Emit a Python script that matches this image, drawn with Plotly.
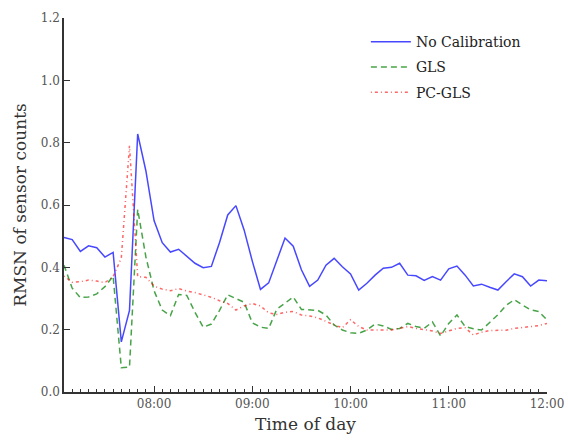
import pandas as pd
import plotly.graph_objects as go

times = pd.date_range("2000-01-01 07:05", "2000-01-01 12:00", freq="5min")

no_calibration = [
    0.496, 0.489, 0.451, 0.469, 0.463, 0.433, 0.448, 0.161, 0.262, 0.828,
    0.710, 0.550, 0.479, 0.449, 0.458, 0.435, 0.413, 0.399, 0.403, 0.480,
    0.568, 0.598, 0.520, 0.420, 0.329, 0.350, 0.424, 0.494, 0.468, 0.392,
    0.339, 0.359, 0.407, 0.429, 0.402, 0.379, 0.327, 0.349, 0.375, 0.397,
    0.400, 0.413, 0.375, 0.373, 0.358, 0.370, 0.359, 0.395, 0.404, 0.375,
    0.340, 0.346, 0.336, 0.327, 0.354, 0.379, 0.370, 0.340, 0.359, 0.357,
]
gls = [
    0.407, 0.333, 0.303, 0.305, 0.315, 0.338, 0.372, 0.078, 0.080, 0.586,
    0.434, 0.325, 0.263, 0.245, 0.313, 0.310, 0.256, 0.208, 0.218, 0.262,
    0.312, 0.300, 0.288, 0.222, 0.208, 0.204, 0.266, 0.285, 0.305, 0.265,
    0.263, 0.262, 0.247, 0.215, 0.199, 0.190, 0.188, 0.199, 0.218, 0.212,
    0.201, 0.204, 0.220, 0.210, 0.204, 0.225, 0.180, 0.220, 0.247, 0.210,
    0.203, 0.199, 0.223, 0.248, 0.278, 0.296, 0.279, 0.264, 0.258, 0.231,
]
pc_gls = [
    0.372, 0.352, 0.354, 0.359, 0.356, 0.351, 0.370, 0.430, 0.790, 0.370,
    0.368, 0.340, 0.330, 0.325, 0.332, 0.324, 0.319, 0.311, 0.304, 0.293,
    0.284, 0.263, 0.276, 0.284, 0.276, 0.254, 0.249, 0.256, 0.258, 0.247,
    0.244, 0.238, 0.226, 0.215, 0.206, 0.232, 0.210, 0.199, 0.199, 0.199,
    0.199, 0.204, 0.210, 0.204, 0.199, 0.196, 0.188, 0.195, 0.204, 0.206,
    0.183, 0.192, 0.197, 0.198, 0.198, 0.204, 0.207, 0.210, 0.213, 0.220,
]

series_names = ["No Calibration", "GLS", "PC-GLS"]
tick_times = ["2000-01-01 08:00", "2000-01-01 09:00", "2000-01-01 10:00",
              "2000-01-01 11:00", "2000-01-01 12:00"]
tick_labels = ["08:00", "09:00", "10:00", "11:00", "12:00"]

FONT = "DejaVu Serif"

fig = go.Figure()
styles = [
    dict(color="rgba(0,0,255,0.72)", width=1.5, dash="solid"),
    dict(color="rgba(0,128,0,0.72)", width=1.5, dash="6px,4px"),
    dict(color="rgba(255,0,0,0.6)", width=1.5, dash="1px,3px,3px,3px"),
]
for i, (name, vals) in enumerate(zip(series_names, [no_calibration, gls, pc_gls])):
    fig.add_trace(go.Scatter(x=times, y=vals, mode="lines", name=name,
                             line=styles[i], legendgroup=name))

fig.update_layout(
    width=568, height=442,
    margin=dict(l=64, r=21, t=18, b=50, autoexpand=False),
    plot_bgcolor="white", paper_bgcolor="white",
    font=dict(family=FONT, color="#333"),
    showlegend=True,
    legend=dict(x=0.625, y=0.978, xanchor="left", yanchor="top",
                font=dict(family=FONT, size=14, color="#222"),
                bgcolor="rgba(0,0,0,0)", tracegroupgap=4,
                traceorder="grouped", itemwidth=40),
    xaxis=dict(
        range=["2000-01-01 07:05", "2000-01-01 12:00"],
        tickmode="array", tickvals=tick_times, ticktext=tick_labels,
        ticks="inside", ticklen=6, tickwidth=1, tickcolor="#333",
        showline=True, linecolor="#333", linewidth=1.5,
        showgrid=False, zeroline=False, automargin=False,
        tickfont=dict(family=FONT, size=12, color="#555"),
        title=dict(text="Time of day", font=dict(family=FONT, size=17, color="#333"), standoff=8),
        minor=dict(dtick=300000, tick0="2000-01-01 07:05", ticks="inside",
                   ticklen=3, tickcolor="#333", showgrid=False),
    ),
    yaxis=dict(
        range=[0, 1.2], dtick=0.2, tickformat=".1f",
        ticks="inside", ticklen=6, tickwidth=1, tickcolor="#333",
        showline=True, linecolor="#333", linewidth=1.5,
        showgrid=False, zeroline=False, automargin=False,
        tickfont=dict(family=FONT, size=12, color="#555"),
        title=dict(text="RMSN of sensor counts", font=dict(family=FONT, size=17, color="#333"), standoff=10),
    ),
)

fig.write_html("out.html")
